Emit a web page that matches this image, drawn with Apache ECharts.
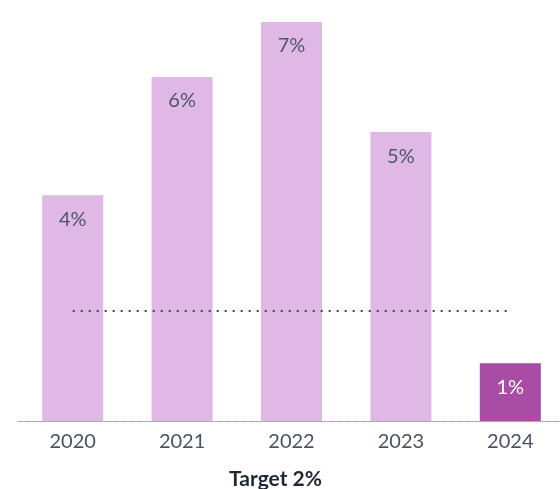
<!DOCTYPE html>
<html>
<head>
<meta charset="utf-8">
<script src="https://cdn.jsdelivr.net/npm/echarts@6/dist/echarts.min.js"></script>
<style>
  html, body { margin: 0; padding: 0; background: #ffffff; }
  #chart { width: 560px; height: 489px; }
</style>
</head>
<body>
<div id="chart"></div>
<script>
// years and values (%)
const years = ['2020', '2021', '2022', '2023', '2024'];
const values = [4.1, 6.25, 7.25, 5.25, 1.05];
const target = 2;
const targetLabel = 'Target 2%';

const lightColor = '#e0b8e6';
const darkColor = '#a94ca5';

const chart = echarts.init(document.getElementById('chart'));

const option = {
  animation: false,
  title: {
    text: targetLabel,
    left: 224,
    top: 464,
    textStyle: {
      fontFamily: 'Lato',
      fontSize: 21,
      fontWeight: 'bold',
      color: '#1f2733'
    }
  },
  grid: {
    left: 18,
    right: -5,
    top: 0,
    bottom: 68,
    outerBoundsMode: 'none'
  },
  xAxis: {
    type: 'category',
    data: years,
    axisLine: {
      show: true,
      lineStyle: { color: '#9a9a9a', type: 'dotted', width: 1 }
    },
    axisTick: { show: false },
    axisLabel: {
      fontFamily: 'Lato',
      fontSize: 20,
      color: '#4b5260',
      margin: 11
    }
  },
  yAxis: {
    type: 'value',
    min: 0,
    max: 7.65,
    show: false,
    splitLine: { show: false }
  },
  series: [
    {
      type: 'bar',
      barWidth: 61,
      data: values.map(function (v, i) {
        const last = i === values.length - 1;
        return {
          value: v,
          itemStyle: { color: last ? darkColor : lightColor },
          label: { color: last ? '#ffffff' : '#50566a' }
        };
      }),
      label: {
        show: true,
        position: 'insideTop',
        distance: 14,
        fontFamily: 'Lato',
        fontSize: 20,
        formatter: function (p) { return Math.round(p.value) + '%'; }
      },
      markLine: {
        symbol: ['none', 'none'],
        silent: true,
        label: { show: false },
        lineStyle: { color: '#3d4450', type: [2, 6], width: 2 },
        data: [
          [{ coord: [years[0], target] }, { coord: [years[years.length - 1], target] }]
        ]
      }
    }
  ]
};

chart.setOption(option);
</script>
</body>
</html>
